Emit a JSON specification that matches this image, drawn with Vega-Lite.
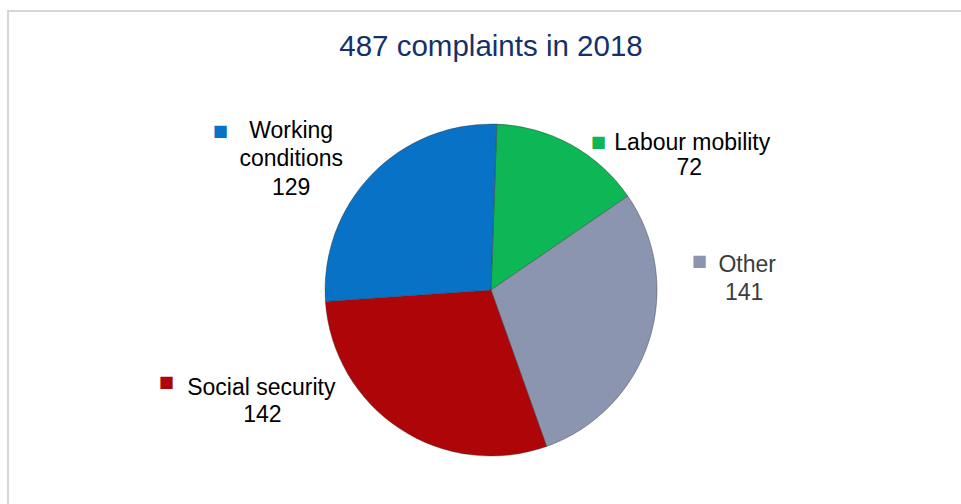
{
  "$schema": "https://vega.github.io/schema/vega-lite/v6.json",
  "autosize": {"type": "none"},
  "width": 966,
  "height": 558,
  "padding": {"left": 8, "top": 11, "right": -13, "bottom": -65},
  "background": "white",
  "view": {"stroke": "#D6D6D6", "strokeWidth": 2, "fill": "white"},
  "config": {
    "view": {"stroke": "#D6D6D6", "strokeWidth": 2},
    "text": {"font": "Liberation Sans", "fontSize": 23, "color": "#000000"}
  },
  "title": {
    "text": "487 complaints in 2018",
    "font": "Liberation Sans",
    "fontSize": 29.5,
    "fontWeight": "normal",
    "color": "#16306B",
    "anchor": "middle",
    "frame": "group",
    "baseline": "alphabetic",
    "offset": 0,
    "dy": 74
  },
  "data": {
    "values": [
      {"category": "Labour mobility", "value": 72, "ord": 1},
      {"category": "Other", "value": 141, "ord": 2},
      {"category": "Social security", "value": 142, "ord": 3},
      {"category": "Working conditions", "value": 129, "ord": 4}
    ]
  },
  "encoding": {
    "theta": {"field": "value", "type": "quantitative", "stack": true, "scale": {"range": [0.0349, 6.3181]}},
    "order": {"field": "ord", "type": "quantitative"},
    "detail": {"field": "category", "type": "nominal"}
  },
  "layer": [
    {
      "mark": {"type": "arc", "radius": 166, "stroke": "#333333", "strokeWidth": 0.8, "strokeOpacity": 0.5},
      "encoding": {
        "color": {"field": "category", "type": "nominal", "legend": null,
          "scale": {"domain": ["Labour mobility", "Other", "Social security", "Working conditions"],
                    "range": ["#0DB755", "#8C95AF", "#AE0608", "#0873C6"]}}
      }
    },
    {
      "mark": {"type": "text", "radius": 200, "font": "DejaVu Sans", "fontSize": 16, "align": "center", "baseline": "middle", "dx": 11, "dy": 27},
      "encoding": {
        "text": {"condition": {"test": "datum.category === 'Labour mobility'", "value": "■"}, "value": ""},
        "color": {"field": "category", "type": "nominal", "legend": null}
      }
    },
    {
      "mark": {"type": "text", "radius": 200, "align": "center", "baseline": "alphabetic", "dx": 105, "dy": 35},
      "encoding": {
        "text": {"condition": {"test": "datum.category === 'Labour mobility'", "field": "category"}, "value": ""}
      }
    },
    {
      "mark": {"type": "text", "radius": 200, "align": "center", "baseline": "alphabetic", "dx": 102, "dy": 60},
      "encoding": {
        "text": {"condition": {"test": "datum.category === 'Labour mobility'", "field": "value", "type": "quantitative"}, "value": ""}
      }
    },
    {
      "mark": {"type": "text", "radius": 200, "font": "DejaVu Sans", "fontSize": 16, "align": "center", "baseline": "middle", "dx": 18, "dy": -91},
      "encoding": {
        "text": {"condition": {"test": "datum.category === 'Other'", "value": "■"}, "value": ""},
        "color": {"field": "category", "type": "nominal", "legend": null}
      }
    },
    {
      "mark": {"type": "text", "radius": 200, "align": "center", "baseline": "alphabetic", "dx": 66, "dy": -80, "color": "#3C3C3C"},
      "encoding": {
        "text": {"condition": {"test": "datum.category === 'Other'", "field": "category"}, "value": ""}
      }
    },
    {
      "mark": {"type": "text", "radius": 200, "align": "center", "baseline": "alphabetic", "dx": 63, "dy": -52, "color": "#3C3C3C"},
      "encoding": {
        "text": {"condition": {"test": "datum.category === 'Other'", "field": "value", "type": "quantitative"}, "value": ""}
      }
    },
    {
      "mark": {"type": "text", "radius": 200, "font": "DejaVu Sans", "fontSize": 16, "align": "center", "baseline": "middle", "dx": -215, "dy": -75},
      "encoding": {
        "text": {"condition": {"test": "datum.category === 'Social security'", "value": "■"}, "value": ""},
        "color": {"field": "category", "type": "nominal", "legend": null}
      }
    },
    {
      "mark": {"type": "text", "radius": 200, "align": "center", "baseline": "alphabetic", "dx": -120, "dy": -62},
      "encoding": {
        "text": {"condition": {"test": "datum.category === 'Social security'", "field": "category"}, "value": ""}
      }
    },
    {
      "mark": {"type": "text", "radius": 200, "align": "center", "baseline": "alphabetic", "dx": -119, "dy": -35},
      "encoding": {
        "text": {"condition": {"test": "datum.category === 'Social security'", "field": "value", "type": "quantitative"}, "value": ""}
      }
    },
    {
      "mark": {"type": "text", "radius": 200, "font": "DejaVu Sans", "fontSize": 16, "align": "center", "baseline": "middle", "dx": -127, "dy": -20},
      "encoding": {
        "text": {"condition": {"test": "datum.category === 'Working conditions'", "value": "■"}, "value": ""},
        "color": {"field": "category", "type": "nominal", "legend": null}
      }
    },
    {
      "mark": {"type": "text", "radius": 200, "align": "center", "baseline": "alphabetic", "lineBreak": " ", "lineHeight": 28, "dx": -56, "dy": -13},
      "encoding": {
        "text": {"condition": {"test": "datum.category === 'Working conditions'", "field": "category"}, "value": ""}
      }
    },
    {
      "mark": {"type": "text", "radius": 200, "align": "center", "baseline": "alphabetic", "dx": -56, "dy": 44},
      "encoding": {
        "text": {"condition": {"test": "datum.category === 'Working conditions'", "field": "value", "type": "quantitative"}, "value": ""}
      }
    }
  ]
}
